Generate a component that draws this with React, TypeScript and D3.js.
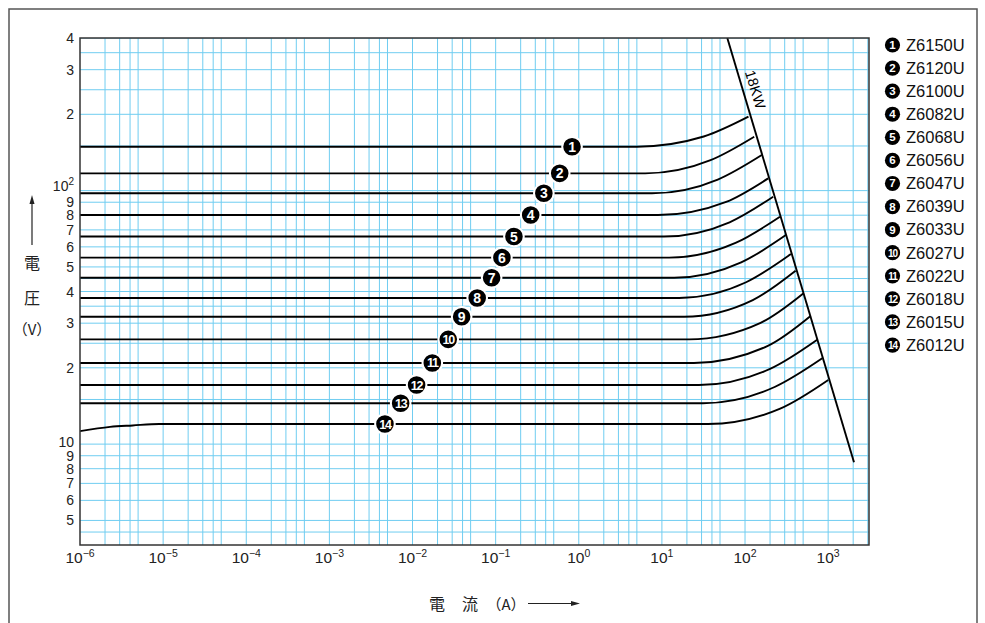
import React from 'react';
import * as d3 from 'd3';

// ---- data ----
const MODELS = ['Z6150U','Z6120U','Z6100U','Z6082U','Z6068U','Z6056U','Z6047U','Z6039U','Z6033U','Z6027U','Z6022U','Z6018U','Z6015U','Z6012U'];
// flat (clamping) voltage of each curve, V
const FLAT_V = [149, 117, 97.6, 80.1, 65.9, 54.4, 45.3, 37.7, 31.8, 25.9, 20.9, 17.1, 14.5, 12.0];
// current where the curve leaves the flat level, A
const KNEE_I = [5.0, 6.3, 7.6, 9.0, 10.6, 12.2, 14.0, 16.1, 18.5, 21.2, 24.3, 27.9, 31.2, 35.8];
// one point on the rising part
const MID_I = [31.9, 38.5, 47.0, 59.3, 65.2, 76.9, 89.9, 103, 124, 154, 188, 200, 227, 265];
const MID_V = [163.5, 131.9, 110.6, 90.3, 75.0, 62.2, 52.1, 43.5, 37.0, 30.1, 24.4, 19.8, 16.8, 13.8];
// end point on the 18KW limit line
const END_I = [110, 129, 159, 190, 218, 263, 310, 357, 406, 502, 615, 739, 849, 1003];
const END_V = [195.7, 163.2, 138.2, 111.8, 94.6, 78.9, 66.8, 56.2, 48.3, 39.3, 32.0, 25.8, 21.8, 17.9];
// current where each numbered marker sits
const MARKER_I = [0.83, 0.59, 0.38, 0.264, 0.166, 0.119, 0.0895, 0.060, 0.039, 0.0269, 0.0173, 0.0112, 0.0072, 0.00466];
// low-current start of curve 14
const START14_I = [1e-6, 2.3e-6, 4.3e-6, 9e-6];
const START14_V = [11.25, 11.7, 11.85, 12.0];
// 18KW limit line
const LIMIT_I = [61.2, 2046];
const LIMIT_V = [400, 8.48];

const X_DECADES = [-6, -5, -4, -3, -2, -1, 0, 1, 2, 3];
const X_GRID_MULT = [1, 2, 3, 4, 5];
const Y_GRID = [4.5, 5, 6, 7, 8, 9, 10, 15, 20, 25, 30, 35, 40, 45, 50, 60, 70, 80, 90, 100, 150, 200, 250, 300, 350, 400];
const Y_TICK_V = [5, 6, 7, 8, 9, 10, 20, 30, 40, 50, 60, 70, 80, 90, 100, 200, 300, 400];
const Y_TICK_MAIN = ['5', '6', '7', '8', '9', '10', '2', '3', '4', '5', '6', '7', '8', '9', '10', '2', '3', '4'];
const Y_TICK_SUP = ['', '', '', '', '', '', '', '', '', '', '', '', '', '', '2', '', '', ''];

const X_MIN = 1e-6, X_MAX = 3100, Y_MIN = 4, Y_MAX = 400;

const GRID = '#70cdf1';
const SANS = '"Liberation Sans", Arial, sans-serif';
const CJK = '"Noto Sans CJK JP", sans-serif';

export default function App() {
  const W = 985, H = 623;
  const L = 80, R = 869, T = 38, B = 545;
  const x = d3.scaleLog().domain([X_MIN, X_MAX]).range([L, R]);
  const y = d3.scaleLog().domain([Y_MIN, Y_MAX]).range([B, T]);
  const line = d3.line<[number, number]>().x(d => x(d[0])).y(d => y(d[1])).curve(d3.curveMonotoneX);
  const straight = d3.line<[number, number]>().x(d => x(d[0])).y(d => y(d[1]));

  const xGrid: number[] = [];
  X_DECADES.forEach(e => X_GRID_MULT.forEach(m => { const v = m * Math.pow(10, e); if (v > X_MIN && v < X_MAX) xGrid.push(v); }));

  const curves = FLAT_V.map((v, i) => {
    const pts: [number, number][] = [];
    if (i === 13) START14_I.forEach((c, k) => pts.push([c, START14_V[k]]));
    else pts.push([X_MIN, v]);
    pts.push([KNEE_I[i], v]);
    pts.push([MID_I[i], MID_V[i]]);
    pts.push([END_I[i], END_V[i]]);
    return pts;
  });

  const limitPts: [number, number][] = LIMIT_I.map((c, k) => [c, LIMIT_V[k]]);
  const lp0 = [x(LIMIT_I[0]), y(LIMIT_V[0])], lp1 = [x(LIMIT_I[1]), y(LIMIT_V[1])];
  const ang = Math.atan2(lp1[1] - lp0[1], lp1[0] - lp0[0]) * 180 / Math.PI;

  return (
    <svg width={W} height={H} style={{ position: 'absolute', left: 0, top: 0, background: '#fff' }}>
      <defs>
        <clipPath id="plotclip"><rect x={L} y={T} width={R - L} height={B - T} /></clipPath>
      </defs>
      <rect x={9} y={9} width={968} height={640} fill="none" stroke="#555" strokeWidth={1.5} />
      <g clipPath="url(#plotclip)">
        {xGrid.map((v, i) => (
          <line key={'xg' + i} x1={x(v)} x2={x(v)} y1={T} y2={B} stroke={GRID} strokeWidth={1} />
        ))}
        {Y_GRID.map((v, i) => (
          <line key={'yg' + i} x1={L} x2={R} y1={y(v)} y2={y(v)} stroke={GRID} strokeWidth={1} />
        ))}
        {curves.map((pts, i) => (
          <path key={'c' + i} d={line(pts) || ''} fill="none" stroke="#000" strokeWidth={1.9} />
        ))}
        <path d={straight(limitPts) || ''} fill="none" stroke="#000" strokeWidth={1.9} />
      </g>
      <rect x={L} y={T} width={R - L} height={B - T} fill="none" stroke="#333" strokeWidth={1.5} />

      {/* numbered markers */}
      {FLAT_V.map((v, i) => (
        <g key={'m' + i} transform={`translate(${x(MARKER_I[i])},${y(v)})`}>
          <circle r={9.8} fill="#000" stroke="#fff" strokeWidth={2} />
          <text textAnchor="middle" y={i < 9 ? 5 : 4.5} fill="#fff" fontFamily={SANS} fontWeight="bold"
            fontSize={i < 9 ? 14 : 12.5} letterSpacing={i < 9 ? 0 : -1.2}>{i + 1}</text>
        </g>
      ))}

      {/* 18KW label */}
      <text transform={`translate(750.5,91) rotate(${ang})`} textAnchor="middle" fontFamily={SANS} fontSize={14.5} fill="#000">18KW</text>

      {/* x tick labels */}
      {X_DECADES.map(e => (
        <text key={'xt' + e} x={x(Math.pow(10, e))} y={563} textAnchor="middle" fontFamily={SANS} fontSize={15.5} fill="#222">
          10<tspan fontSize={10.5} dy={-6}>{e < 0 ? '\u2212' + (-e) : String(e)}</tspan>
        </text>
      ))}

      {/* y tick labels */}
      {Y_TICK_V.map((v, i) => (
        <text key={'yt' + i} x={74} y={y(v) + 5 - (v === 100 ? 5 : v === 10 ? 2 : 0)} textAnchor="end" fontFamily={SANS} fontSize={14} fill="#222">
          {Y_TICK_MAIN[i]}{Y_TICK_SUP[i] ? <tspan fontSize={10} dy={-6}>{Y_TICK_SUP[i]}</tspan> : null}
        </text>
      ))}

      {/* y axis title */}
      <line x1={32} x2={32} y1={245} y2={202} stroke="#222" strokeWidth={1.2} />
      <polygon points="32,195 29.5,204 34.5,204" fill="#222" />
      <text x={32} y={262} textAnchor="middle" dominantBaseline="central" fontFamily={CJK} fontSize={16} fill="#222">電</text>
      <text x={32} y={297} textAnchor="middle" dominantBaseline="central" fontFamily={CJK} fontSize={16} fill="#222">圧</text>
      <text x={32} y={328} textAnchor="middle" dominantBaseline="central" fontFamily={CJK} fontSize={15} fill="#222">（V）</text>

      {/* x axis title */}
      <text x={437} y={603} textAnchor="middle" dominantBaseline="central" fontFamily={CJK} fontSize={16} fill="#222">電</text>
      <text x={470} y={603} textAnchor="middle" dominantBaseline="central" fontFamily={CJK} fontSize={16} fill="#222">流</text>
      <text x={506} y={603} textAnchor="middle" dominantBaseline="central" fontFamily={CJK} fontSize={15} fill="#222">（A）</text>
      <line x1={528} x2={573} y1={603.5} y2={603.5} stroke="#222" strokeWidth={1.2} />
      <polygon points="580,603.5 571,601 571,606" fill="#222" />

      {/* legend */}
      {MODELS.map((m, i) => {
        const cy = 45 + i * 23.08;
        return (
          <g key={'lg' + i}>
            <circle cx={892.5} cy={cy} r={7.6} fill="#000" />
            <text x={892.5} y={cy + 4} textAnchor="middle" fill="#fff" fontFamily={SANS} fontWeight="bold"
              fontSize={i < 9 ? 11.5 : 10} letterSpacing={i < 9 ? 0 : -1}>{i + 1}</text>
            <text x={906} y={cy + 5.8} fontFamily={SANS} fontSize={16.5} fill="#111">{m}</text>
          </g>
        );
      })}
    </svg>
  );
}
